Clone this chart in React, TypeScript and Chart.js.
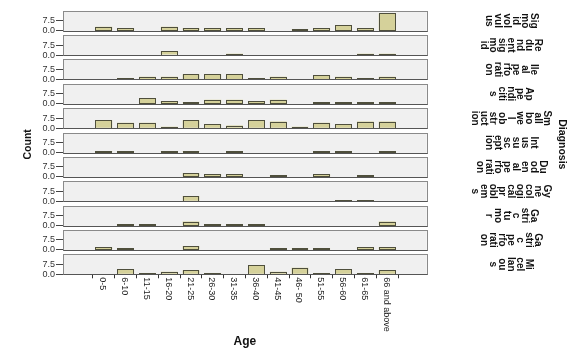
import { useEffect, useRef } from "react";
import { Chart, registerables } from "chart.js";

Chart.register(...registerables);

// ---------- data ----------
const ageGroups = [
  "0-5", "6-10", "11-15", "16-20", "21-25", "26-30", "31-35",
  "36-40", "41-45", "46- 50", "51-55", "56-60", "61-65", "66 and above",
];

const diagnoses = [
  "Sigmoid volvulus", "Redundent sigmoid", "Ileal perforation", "Appendicitis",
  "Small bowel obstruction", "Intussusception", "Duodenal perforation",
  "Gynecological problems", "Gastric tumor", "Gastric perforation", "Micellanous",
];

// strip labels as wrapped in the original
const stripLines = [
  ["Sig", "mo", "id", "vol", "vul", "us"],
  ["Re", "du", "nd", "ent", "sig", "mo", "id"],
  ["Ile", "al", "pe", "rfo", "rati", "on"],
  ["Ap", "pe", "ndi", "citi", "s"],
  ["Sm", "all", "bo", "we", "l", "ob", "str", "uct", "ion"],
  ["Int", "us", "su", "sc", "ept", "ion"],
  ["Du", "od", "en", "al", "pe", "rfo", "rati", "on"],
  ["Gy", "ne", "col", "ogi", "cal", "pr", "obl", "em", "s"],
  ["Ga", "stri", "c", "tu", "mo", "r"],
  ["Ga", "stri", "c", "pe", "rfo", "rati", "on"],
  ["Mi", "cel", "lan", "ou", "s"],
];

const sigmoidVolvulus = [3, 2, 0, 3, 2, 2, 2, 2, 0, 1, 2, 4, 2, 13];
const redundantSigmoid = [0, 0, 0, 3, 0, 0, 1, 0, 0, 0, 0, 0, 1, 1];
const ilealPerforation = [0, 1, 2, 2, 4, 4, 4, 1, 2, 0, 3, 2, 1, 2];
const appendicitis = [0, 0, 4, 2, 1, 3, 3, 2, 3, 0, 1, 1, 1, 1];
const smallBowelObstruction = [6, 4, 4, 1, 6, 3, 2, 6, 5, 1, 4, 3, 5, 5];
const intussusception = [1, 1, 0, 1, 1, 0, 1, 0, 0, 0, 1, 1, 0, 1];
const duodenalPerforation = [0, 0, 0, 0, 3, 2, 2, 0, 1, 0, 2, 0, 1, 0];
const gynecologicalProblems = [0, 0, 0, 0, 4, 0, 0, 0, 0, 0, 0, 1, 1, 0];
const gastricTumor = [0, 1, 1, 0, 3, 1, 1, 1, 0, 0, 0, 0, 0, 3];
const gastricPerforation = [2, 1, 0, 0, 3, 0, 0, 0, 1, 1, 1, 0, 2, 2];
const micellanous = [0, 4, 1, 2, 3, 1, 0, 7, 2, 5, 1, 4, 1, 3];

const counts = [
  sigmoidVolvulus, redundantSigmoid, ilealPerforation, appendicitis,
  smallBowelObstruction, intussusception, duodenalPerforation,
  gynecologicalProblems, gastricTumor, gastricPerforation, micellanous,
];

const yTicks = [0, 7.5];

// ---------- layout / style ----------
const W = 573;
const H = 361;
const PLOT_LEFT = 63;
const PLOT_RIGHT = 426.7;
const PLOT_TOP = 6.3;
const PLOT_BOTTOM = 274.3;
const PANEL_MAX = 15; // top of a panel box
const Y_MAX = 18.27; // includes gap between panels
const X_MIN = -1.28;
const X_MAX = 14.22;
const FONT = '"Liberation Sans", Arial, sans-serif';
const BAR_FILL = "#d5d19a";
const BAR_EDGE = "#4f4f3c";
const PANEL_BG = "#f0f0f0";
const PANEL_EDGE = "#8a8a8a";
const STRIP_CX = 511;
const STRIP_LH = 9;

const facetPlugin = {
  id: "facetPlugin",
  beforeDatasetsDraw(chart: any) {
    const ctx = chart.ctx;
    const { left, right } = chart.chartArea;
    ctx.save();
    diagnoses.forEach((_, i) => {
      const s = chart.scales["y" + i];
      const top = Math.round(s.getPixelForValue(PANEL_MAX)) + 0.5;
      const bottom = Math.round(s.getPixelForValue(0)) + 0.5;
      ctx.fillStyle = PANEL_BG;
      ctx.fillRect(left, top, right - left, bottom - top);
    });
    ctx.restore();
  },
  afterDatasetsDraw(chart: any) {
    const ctx = chart.ctx;
    const { left, right } = chart.chartArea;
    const l = Math.round(left) + 0.5;
    const r = Math.round(right) + 0.5;
    ctx.save();
    ctx.lineWidth = 1;
    // crisp dark outlines round each bar element laid out by Chart.js
    ctx.strokeStyle = BAR_EDGE;
    chart.data.datasets.forEach((ds: any, di: number) => {
      const meta = chart.getDatasetMeta(di);
      meta.data.forEach((el: any, j: number) => {
        const raw = ds.data[j];
        if (!raw || raw.y == null || !(raw.y > 0)) return;
        if (el.y == null || isNaN(el.y)) return;
        const x0 = Math.round(el.x - el.width / 2) + 0.5;
        const x1 = Math.round(el.x + el.width / 2) - 0.5;
        const yb = Math.round(el.base);
        const yt = Math.min(Math.round(el.y), yb - 1);
        ctx.strokeRect(x0, yt + 0.5, x1 - x0, yb - yt);
      });
    });
    diagnoses.forEach((_, i) => {
      const s = chart.scales["y" + i];
      const top = Math.round(s.getPixelForValue(PANEL_MAX)) + 0.5;
      const bottom = Math.round(s.getPixelForValue(0)) + 0.5;
      ctx.strokeStyle = PANEL_EDGE;
      ctx.strokeRect(l, top, r - l, bottom - top);
      ctx.strokeStyle = "#555555";
      ctx.beginPath();
      ctx.moveTo(l, bottom);
      ctx.lineTo(r, bottom);
      ctx.stroke();
    });
    ctx.restore();
  },
  afterDraw(chart: any) {
    const ctx = chart.ctx;
    const xs = chart.scales.x;
    ctx.save();
    // x tick labels, rotated clockwise
    ctx.fillStyle = "#222";
    ctx.font = `9px ${FONT}`;
    ageGroups.forEach((lab, i) => {
      const x = xs.getPixelForValue(i);
      ctx.save();
      ctx.translate(x - 1, chart.chartArea.bottom + 3);
      ctx.rotate(Math.PI / 2);
      ctx.textAlign = "left";
      ctx.textBaseline = "middle";
      ctx.fillText(lab, 0, 0);
      ctx.restore();
    });
    // strip labels
    ctx.fillStyle = "#111";
    ctx.font = `bold 10px ${FONT}`;
    stripLines.forEach((lines, i) => {
      const s = chart.scales["y" + i];
      const cy = (s.getPixelForValue(PANEL_MAX) + s.getPixelForValue(0)) / 2;
      const n = lines.length;
      lines.forEach((t, j) => {
        const x = STRIP_CX + ((n - 1) / 2 - j) * STRIP_LH;
        ctx.save();
        ctx.translate(x, cy);
        ctx.rotate(Math.PI / 2);
        ctx.textAlign = "center";
        ctx.textBaseline = "middle";
        ctx.fillText(t, 0, 0);
        ctx.restore();
      });
    });
    const midY = (chart.chartArea.top + chart.chartArea.bottom) / 2 + 4;
    // Diagnosis title
    ctx.fillStyle = "#111";
    ctx.font = `bold 10.5px ${FONT}`;
    ctx.save();
    ctx.translate(562, midY);
    ctx.rotate(Math.PI / 2);
    ctx.textAlign = "center";
    ctx.textBaseline = "middle";
    ctx.fillText("Diagnosis", 0, 0);
    ctx.restore();
    // Count title
    ctx.font = `bold 10.5px ${FONT}`;
    ctx.save();
    ctx.translate(28, midY);
    ctx.rotate(-Math.PI / 2);
    ctx.textAlign = "center";
    ctx.textBaseline = "middle";
    ctx.fillText("Count", 0, 0);
    ctx.restore();
    // Age title
    ctx.font = `bold 12px ${FONT}`;
    ctx.textAlign = "center";
    ctx.textBaseline = "middle";
    ctx.fillText("Age", (chart.chartArea.left + chart.chartArea.right) / 2, 342);
    ctx.restore();
  },
};

export default function App() {
  const ref = useRef<HTMLCanvasElement>(null);

  useEffect(() => {
    const canvas = ref.current;
    if (!canvas) return;

    const scales: any = {
      x: {
        type: "linear",
        position: "bottom",
        min: X_MIN,
        max: X_MAX,
        afterBuildTicks: (s: any) => {
          s.ticks = ageGroups.map((_, i) => ({ value: i }));
        },
        afterFit: (s: any) => {
          s.height = H - PLOT_BOTTOM;
        },
        ticks: { display: false },
        grid: {
          display: true,
          drawOnChartArea: false,
          drawTicks: true,
          tickLength: 4,
          color: "#333",
          lineWidth: 1,
        },
        border: { display: false },
      },
    };

    diagnoses.forEach((_, i) => {
      scales["y" + i] = {
        type: "linear",
        position: "left",
        stack: "diag",
        stackWeight: 1,
        weight: diagnoses.length - i,
        min: 0,
        max: Y_MAX,
        afterBuildTicks: (s: any) => {
          s.ticks = yTicks.map((v) => ({ value: v }));
        },
        afterFit: (s: any) => {
          s.width = PLOT_LEFT;
        },
        ticks: {
          autoSkip: false,
          padding: 1,
          color: "#333",
          font: { family: FONT, size: 9 },
          callback: (v: any) => Number(v).toFixed(1),
        },
        grid: {
          display: true,
          drawOnChartArea: false,
          drawTicks: true,
          tickLength: 7,
          color: "#444",
          lineWidth: 1,
        },
        border: { display: false },
      };
    });

    const chart = new Chart(canvas, {
      type: "bar",
      data: {
        datasets: diagnoses.map((d, i) => ({
          label: d,
          xAxisID: "x",
          yAxisID: "y" + i,
          data: counts[i].map((v, j) => ({ x: j, y: v === 0 ? null : v })),
          backgroundColor: BAR_FILL,
          borderWidth: 0,
          grouped: false,
          barPercentage: 0.77,
          categoryPercentage: 1,
        })) as any,
      },
      options: {
        responsive: false,
        maintainAspectRatio: false,
        animation: false,
        layout: {
          padding: { left: 0, top: PLOT_TOP, right: W - PLOT_RIGHT, bottom: 0 },
        },
        plugins: {
          legend: { display: false },
          tooltip: { enabled: false },
        },
        scales,
      } as any,
      plugins: [facetPlugin],
    });

    return () => chart.destroy();
  }, []);

  return (
    <div style={{ position: "absolute", left: 0, top: 0, width: W, height: H, background: "#fff" }}>
      <canvas ref={ref} width={W} height={H} style={{ width: W, height: H, display: "block" }} />
    </div>
  );
}
